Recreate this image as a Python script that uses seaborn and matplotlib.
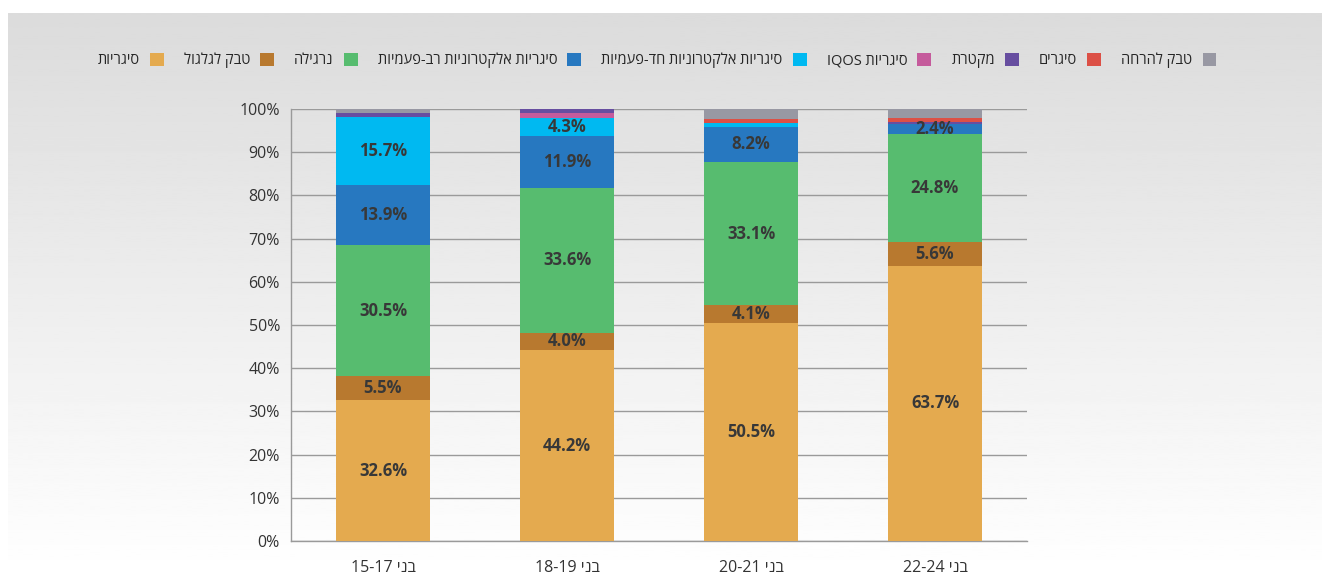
import re
import numpy as np
import pandas as pd
import matplotlib
matplotlib.use("Agg")
import matplotlib.pyplot as plt
import seaborn as sns
from matplotlib.patches import Patch

# --- data (bottom -> top of each stack) ---
age_groups = ['בני 15-17', 'בני 18-19', 'בני 20-21', 'בני 22-24']
products = ['סיגריות', 'טבק לגלגול', 'נרגילה', 'סיגריות אלקטרוניות רב-פעמיות',
            'סיגריות אלקטרוניות חד-פעמיות', 'סיגריות IQOS', 'מקטרת', 'סיגרים', 'טבק להרחה']
cigarettes = [32.6, 44.2, 50.5, 63.7]
rolling_tobacco = [5.5, 4.0, 4.1, 5.6]
hookah = [30.5, 33.6, 33.1, 24.8]
ecig_reusable = [13.9, 11.9, 8.2, 2.4]
ecig_disposable = [15.7, 4.3, 0.9, 0.0]
iqos = [0.0, 1.0, 0.0, 0.0]
pipe = [0.8, 1.0, 0.0, 0.4]
cigars = [0.0, 0.0, 0.9, 1.1]
snuff = [1.0, 0.0, 2.3, 2.0]
series = [cigarettes, rolling_tobacco, hookah, ecig_reusable, ecig_disposable,
          iqos, pipe, cigars, snuff]
colors = ['#e4aa4f', '#b8792f', '#57bc6f', '#2778c0', '#00b9f1',
          '#c55b9c', '#674ea0', '#dc5046', '#9898a3']
n_labelled = 5  # only the main products carry value labels


def rtl(s):
    # matplotlib has no bidi support: flip to visual order, keep latin/digit runs
    r = s[::-1]
    return re.sub(r'[0-9A-Za-z%.\-]+', lambda m: m.group(0)[::-1], r)


sns.set_theme(style="white")
plt.rcParams['font.family'] = ['Open Sans', 'Liberation Sans', 'DejaVu Sans']

fig = plt.figure(figsize=(13.22, 5.77), dpi=100)

# grey gradient panel behind the chart
bg = fig.add_axes([8 / 1322, 0, 1 - 8 / 1322, 564 / 577], zorder=-10)
grad = np.linspace(0.86, 1.0, 256).reshape(-1, 1)
bg.imshow(grad, aspect='auto', cmap='gray', vmin=0, vmax=1, extent=[0, 1, 0, 1], origin='upper')
bg.set_axis_off()

ax = fig.add_axes([291 / 1322, 36 / 577, 736 / 1322, 432 / 577])
ax.set_facecolor('none')

x_labels = [rtl(a) for a in age_groups]
bottom = np.zeros(len(age_groups))
for k, (vals, col) in enumerate(zip(series, colors)):
    df = pd.DataFrame({'age': x_labels, 'value': vals})
    sns.barplot(data=df, x='age', y='value', color=col, saturation=1, width=0.51,
                errorbar=None, bottom=bottom, linewidth=0, ax=ax, zorder=3)
    if k < n_labelled:
        for i, v in enumerate(vals):
            if v >= 2:
                ax.text(i, bottom[i] + v / 2, f"{v}%", ha='center', va='center',
                        fontsize=12, fontweight='bold', color='#383838', zorder=4)
    bottom = bottom + np.array(vals)

ax.set_xlim(-0.5, 3.5)
ax.set_ylim(0, 100)
ax.set_yticks(range(0, 101, 10))
ax.set_yticklabels([f"{t}%" for t in range(0, 101, 10)], fontsize=11.5, color='#333333')
ax.yaxis.grid(True, color='#9a9a9a', linewidth=1, zorder=0)
ax.set_axisbelow(True)
ax.tick_params(axis='y', length=0, pad=8)
ax.tick_params(axis='x', length=0, pad=14, labelsize=11.5, labelcolor='#333333')
ax.set_xticks(range(4))
ax.set_xticks([0.5, 1.5, 2.5, 3.5], minor=True)
ax.tick_params(axis='x', which='minor', direction='in', length=6, color='#9a9a9a', width=1)
ax.set_xlabel('')
ax.set_ylabel('')
for side in ['top', 'right']:
    ax.spines[side].set_visible(False)
for side in ['left', 'bottom']:
    ax.spines[side].set_color('#9a9a9a')
    ax.spines[side].set_linewidth(1)

handles = [Patch(facecolor=c, edgecolor='none') for c in colors]
fig.legend(handles, [rtl(p) for p in products], ncol=9, markerfirst=False, frameon=False,
           loc='center', bbox_to_anchor=(0.497, 0.895), fontsize=10.5,
           handlelength=0.95, handleheight=0.95, handletextpad=0.7, columnspacing=1.37)

fig.savefig('out.png', dpi=100)
